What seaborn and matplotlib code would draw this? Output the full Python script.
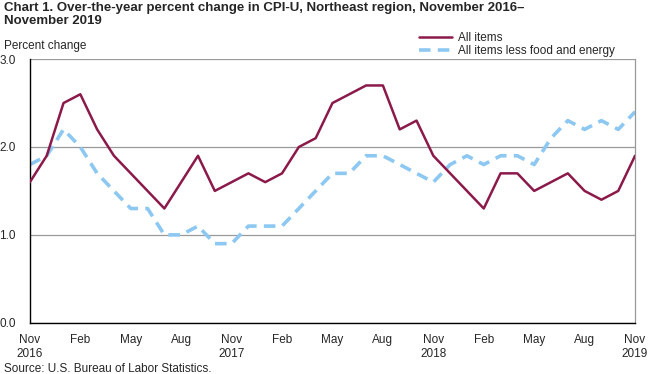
import numpy as np
import pandas as pd
import matplotlib
matplotlib.use("Agg")
import matplotlib.pyplot as plt
import seaborn as sns
from matplotlib.lines import Line2D

# Nov 2016 .. Nov 2019, monthly
months = pd.date_range("2016-11-01", "2019-11-01", freq="MS")

all_items = [1.6, 1.9, 2.5, 2.6, 2.2, 1.9, 1.7, 1.5, 1.3, 1.6, 1.9, 1.5,
             1.6, 1.7, 1.6, 1.7, 2.0, 2.1, 2.5, 2.6, 2.7, 2.7, 2.2, 2.3,
             1.9, 1.7, 1.5, 1.3, 1.7, 1.7, 1.5, 1.6, 1.7, 1.5, 1.4, 1.5,
             1.9]
core = [1.8, 1.9, 2.2, 2.0, 1.7, 1.5, 1.3, 1.3, 1.0, 1.0, 1.1, 0.9,
        0.9, 1.1, 1.1, 1.1, 1.3, 1.5, 1.7, 1.7, 1.9, 1.9, 1.8, 1.7,
        1.6, 1.8, 1.9, 1.8, 1.9, 1.9, 1.8, 2.1, 2.3, 2.2, 2.3, 2.2,
        2.4]
tick_labels = ["Nov\n2016", "Feb", "May", "Aug", "Nov\n2017", "Feb", "May",
               "Aug", "Nov\n2018", "Feb", "May", "Aug", "Nov\n2019"]

df = pd.DataFrame({"idx": np.arange(len(months)),
                   "All items": all_items,
                   "All items less food and energy": core})
long_df = df.melt(id_vars="idx", var_name="series", value_name="pct")

sns.set_style("white")
plt.rcParams["font.family"] = ["Liberation Sans", "DejaVu Sans"]

fig = plt.figure(figsize=(6.5, 3.74), dpi=100)
ax = fig.add_axes([0.046, 0.137, 0.931, 0.705])

ax.grid(axis="y", color="#999999", linewidth=0.9)
ax.set_axisbelow(True)

palette = {"All items": "#8B1A4B", "All items less food and energy": "#8DC8F2"}
sns.lineplot(data=long_df, x="idx", y="pct", hue="series", style="series",
             palette=palette, dashes={"All items": "", "All items less food and energy": (3.2, 2.0)},
             ax=ax, legend=False)
lines = ax.get_lines()
lines[0].set_linewidth(1.8)
lines[1].set_linewidth(2.6)
lines[1].set_zorder(2)
lines[0].set_zorder(3)

ax.set_xlim(0, len(months) - 1)
ax.set_ylim(0, 3.0)
ax.set_yticks([0, 1, 2, 3])
ax.set_yticklabels(["0.0", "1.0", "2.0", "3.0"], fontsize=8.5)
ax.set_xticks(np.arange(0, len(months), 3))
ax.set_xticklabels(tick_labels, fontsize=8.5, linespacing=1.25)
ax.set_xticks(np.arange(len(months)), minor=True)
ax.tick_params(axis="x", which="both", direction="inout", length=8, width=1, color="black", pad=4)
ax.tick_params(axis="y", length=0, pad=10)
ax.set_xlabel("")
ax.set_ylabel("")

for s in ["left", "bottom"]:
    ax.spines[s].set_color("black")
    ax.spines[s].set_linewidth(1)
ax.spines["top"].set_visible(False)
ax.spines["right"].set_color("#999999")
ax.spines["right"].set_linewidth(0.9)

fig.text(0.006, 0.995, "Chart 1. Over-the-year percent change in CPI-U, Northeast region, November 2016\u2013\nNovember 2019",
         fontsize=9.5, fontweight="bold", va="top", ha="left", linespacing=1.15)
fig.text(0.006, 0.86, "Percent change", fontsize=8.5, va="bottom", ha="left")
fig.text(0.006, -0.004, "Source: U.S. Bureau of Labor Statistics.", fontsize=8.5, va="bottom", ha="left")

# legend drawn as a small key in the top right
handles = [Line2D([], [], color=palette["All items"], lw=1.8),
           Line2D([], [], color=palette["All items less food and energy"], lw=2.6, dashes=(3.2, 2.0))]
fig.legend(handles, ["All items", "All items less food and energy"], loc="upper left",
           bbox_to_anchor=(0.645, 0.915), frameon=False, fontsize=8.5, handlelength=2.8,
           handletextpad=0.5, labelspacing=0.12, borderaxespad=0, borderpad=0)

fig.savefig("out.png", dpi=100)
